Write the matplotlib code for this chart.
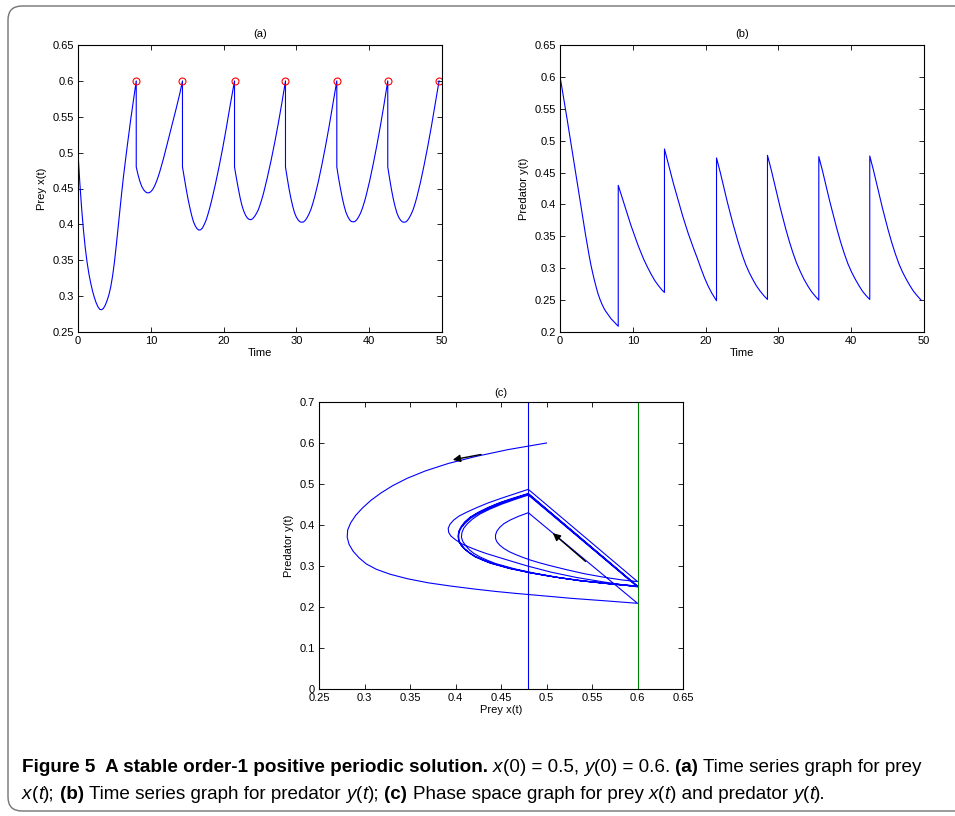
import matplotlib
matplotlib.use('Agg')
import matplotlib.pyplot as plt
import numpy as np
from matplotlib.patches import FancyBboxPatch
from matplotlib.transforms import IdentityTransform
from matplotlib.ticker import FormatStrFormatter, MultipleLocator

# values: one list per impulse cycle (time, prey x, predator y)
t1 = [0, 0.25, 0.5, 0.75, 1.0, 1.25, 1.5, 1.75, 2.0, 2.25, 2.5, 2.75, 3.0, 3.25, 3.5, 3.75, 4.0,
      4.25, 4.5, 4.75, 5.0, 5.25, 5.5, 5.75, 6.0, 6.25, 6.5, 6.75, 7.0, 7.25, 7.5, 7.75, 8.0]
x1 = [0.5, 0.458, 0.422, 0.392, 0.367, 0.347, 0.331, 0.318, 0.307, 0.298, 0.2905, 0.285, 0.2815,
      0.281, 0.283, 0.2875, 0.294, 0.302, 0.313, 0.328, 0.347, 0.37, 0.395, 0.42, 0.444, 0.467,
      0.488, 0.508, 0.528, 0.547, 0.565, 0.583, 0.6]
y1 = [0.6, 0.584, 0.567, 0.55, 0.532, 0.514, 0.496, 0.478, 0.46, 0.442, 0.424, 0.406, 0.388, 0.37,
      0.353, 0.336, 0.32, 0.305, 0.292, 0.28, 0.269, 0.259, 0.251, 0.244, 0.238, 0.233, 0.229,
      0.225, 0.221, 0.218, 0.215, 0.212, 0.209]

t2 = [8.0, 8.25, 8.5, 8.75, 9.0, 9.25, 9.5, 9.75, 10.0, 10.25, 10.5, 10.75, 11.0, 11.25, 11.5,
      11.75, 12.0, 12.5, 13.0, 13.5, 14.0, 14.35]
x2 = [0.48, 0.469, 0.46, 0.453, 0.4485, 0.4455, 0.444, 0.444, 0.4455, 0.4485, 0.453, 0.459,
      0.466, 0.474, 0.483, 0.492, 0.502, 0.522, 0.542, 0.562, 0.583, 0.6]
y2 = [0.43, 0.421, 0.412, 0.403, 0.394, 0.385, 0.376, 0.367, 0.359, 0.351, 0.343, 0.335, 0.328,
      0.321, 0.314, 0.308, 0.302, 0.291, 0.281, 0.273, 0.266, 0.262]

t3 = [14.35, 14.6, 14.85, 15.1, 15.35, 15.6, 15.85, 16.1, 16.35, 16.6, 16.85, 17.1, 17.35, 17.6,
      17.85, 18.1, 18.35, 18.85, 19.35, 19.85, 20.35, 20.85, 21.5]
x3 = [0.48, 0.465, 0.45, 0.436, 0.424, 0.413, 0.404, 0.398, 0.394, 0.392, 0.3925, 0.395, 0.4,
      0.406, 0.414, 0.423, 0.433, 0.455, 0.479, 0.505, 0.533, 0.563, 0.6]
y3 = [0.487, 0.476, 0.465, 0.454, 0.443, 0.432, 0.422, 0.412, 0.402, 0.392, 0.382, 0.373, 0.364,
      0.355, 0.347, 0.339, 0.331, 0.316, 0.3, 0.285, 0.272, 0.261, 0.249]

t4 = [21.5, 21.75, 22.0, 22.25, 22.5, 22.75, 23.0, 23.25, 23.5, 23.75, 24.0, 24.25, 24.5, 24.75,
      25.0, 25.25, 25.5, 26.0, 26.5, 27.0, 27.5, 28.0, 28.5]
x4 = [0.48, 0.465, 0.451, 0.438, 0.427, 0.419, 0.413, 0.409, 0.407, 0.4065, 0.408, 0.411, 0.415,
      0.42, 0.427, 0.435, 0.444, 0.465, 0.488, 0.513, 0.54, 0.569, 0.6]
y4 = [0.473, 0.462, 0.451, 0.439, 0.427, 0.415, 0.403, 0.392, 0.381, 0.37, 0.36, 0.35, 0.34,
      0.331, 0.322, 0.314, 0.306, 0.293, 0.282, 0.272, 0.264, 0.257, 0.251]

t5 = [28.5, 28.75, 29.0, 29.25, 29.5, 29.75, 30.0, 30.25, 30.5, 30.75, 31.0, 31.25, 31.5, 31.75,
      32.0, 32.25, 32.5, 33.0, 33.5, 34.0, 34.5, 35.0, 35.55]
x5 = [0.48, 0.464, 0.449, 0.436, 0.425, 0.416, 0.41, 0.406, 0.4035, 0.403, 0.4035, 0.406, 0.41,
      0.415, 0.421, 0.429, 0.438, 0.459, 0.483, 0.509, 0.537, 0.567, 0.6]
y5 = [0.477, 0.466, 0.455, 0.443, 0.431, 0.419, 0.407, 0.395, 0.384, 0.373, 0.362, 0.352, 0.342,
      0.333, 0.324, 0.316, 0.308, 0.295, 0.283, 0.273, 0.264, 0.257, 0.25]

t6 = [35.55, 35.8, 36.05, 36.3, 36.55, 36.8, 37.05, 37.3, 37.55, 37.8, 38.05, 38.3, 38.55, 38.8,
      39.05, 39.3, 39.55, 40.05, 40.55, 41.05, 41.55, 42.05, 42.55]
x6 = [0.48, 0.464, 0.45, 0.437, 0.426, 0.417, 0.411, 0.4065, 0.404, 0.4035, 0.404, 0.4065, 0.4105,
      0.4155, 0.422, 0.43, 0.439, 0.46, 0.484, 0.51, 0.538, 0.568, 0.6]
y6 = [0.475, 0.464, 0.453, 0.441, 0.429, 0.417, 0.405, 0.394, 0.383, 0.372, 0.361, 0.351, 0.341,
      0.332, 0.323, 0.315, 0.307, 0.294, 0.283, 0.273, 0.264, 0.257, 0.251]

t7 = [42.55, 42.8, 43.05, 43.3, 43.55, 43.8, 44.05, 44.3, 44.55, 44.8, 45.05, 45.3, 45.55, 45.8,
      46.05, 46.3, 46.55, 47.05, 47.55, 48.05, 48.55, 49.05, 49.6]
x7 = [0.48, 0.464, 0.449, 0.436, 0.425, 0.416, 0.41, 0.406, 0.4035, 0.403, 0.4035, 0.406, 0.41,
      0.415, 0.421, 0.429, 0.438, 0.459, 0.483, 0.509, 0.537, 0.567, 0.6]
y7 = [0.476, 0.465, 0.454, 0.442, 0.43, 0.418, 0.406, 0.394, 0.383, 0.372, 0.361, 0.351, 0.341,
      0.332, 0.323, 0.315, 0.307, 0.294, 0.283, 0.273, 0.264, 0.257, 0.25]

ET = 0.6                # threshold where the pulse happens
X_AFTER = 0.48          # prey level right after a pulse
pulse_t = [8.0, 14.35, 21.5, 28.5, 35.55, 42.55, 49.6]

# arrows in panel (c): (tail, head)
arrows = [((0.428, 0.572), (0.397, 0.559)),
          ((0.543, 0.311), (0.507, 0.380))]

t = np.concatenate([t1, t2, t3, t4, t5, t6, t7])
x = np.concatenate([x1, x2, x3, x4, x5, x6, x7])
y = np.concatenate([y1, y2, y3, y4, y5, y6, y7])

#------------------------------------------------------#

plt.rcParams['font.family'] = ['Liberation Sans', 'DejaVu Sans']
plt.rcParams['font.size'] = 8

W, H = 955, 816
fig = plt.figure(figsize=(W / 100, H / 100), dpi=100)

def box(l, t_, w, h):
    return [l / W, 1 - (t_ + h) / H, w / W, h / H]

def style_axes(ax):
    ax.tick_params(direction='in', top=True, right=True, length=3.5, width=0.6,
                   labelsize=8, pad=3, colors='k')
    for s in ax.spines.values():
        s.set_linewidth(0.8)
    ax.xaxis.set_major_formatter(FormatStrFormatter('%g'))
    ax.yaxis.set_major_formatter(FormatStrFormatter('%g'))

blue = (0, 0, 1)

# (a) prey
ax1 = fig.add_axes(box(78, 45, 364, 287))
ax1.plot(t, x, color=blue, lw=0.8)
ax1.plot(pulse_t, [ET] * len(pulse_t), 'o', mfc='none', mec='r', ms=5, mew=0.8)
ax1.set_xlim(0, 50)
ax1.set_ylim(0.25, 0.65)
ax1.xaxis.set_major_locator(MultipleLocator(10))
ax1.yaxis.set_major_locator(MultipleLocator(0.05))
ax1.set_xlabel('Time', labelpad=1)
ax1.set_ylabel('Prey x(t)', labelpad=4)
ax1.set_title('(a)', fontsize=8, pad=6)
style_axes(ax1)

# (b) predator
ax2 = fig.add_axes(box(560, 45, 364, 287))
ax2.plot(t, y, color=blue, lw=0.8)
ax2.set_xlim(0, 50)
ax2.set_ylim(0.2, 0.65)
ax2.xaxis.set_major_locator(MultipleLocator(10))
ax2.yaxis.set_major_locator(MultipleLocator(0.05))
ax2.set_xlabel('Time', labelpad=1)
ax2.set_ylabel('Predator y(t)', labelpad=4)
ax2.set_title('(b)', fontsize=8, pad=6)
style_axes(ax2)

# (c) phase space
ax3 = fig.add_axes(box(319, 402, 364, 287))
ax3.plot(x, y, color=blue, lw=0.8)
ax3.axvline(X_AFTER, color=blue, lw=0.8)
ax3.axvline(ET, color=(0, 0.5, 0), lw=0.8)
for tail, head in arrows:
    ax3.annotate('', xy=head, xytext=tail,
                 arrowprops=dict(arrowstyle='-|>', color='k', lw=1.0,
                                 mutation_scale=11, shrinkA=0, shrinkB=0))
ax3.set_xlim(0.25, 0.65)
ax3.set_ylim(0, 0.7)
ax3.xaxis.set_major_locator(MultipleLocator(0.05))
ax3.yaxis.set_major_locator(MultipleLocator(0.1))
ax3.set_xlabel('Prey x(t)', labelpad=1)
ax3.set_ylabel('Predator y(t)', labelpad=4)
ax3.set_title('(c)', fontsize=8, pad=4)
style_axes(ax3)

# rounded frame around the figure block
frame = FancyBboxPatch((8, H - 811), 990, 805, boxstyle='round,pad=0,rounding_size=14',
                       transform=IdentityTransform(), fill=False,
                       edgecolor='0.45', lw=1.0)
fig.patches.append(frame)

#------------------------------------------------------#
# caption with mixed bold / italic pieces

cap_family = ['Liberation Sans Narrow', 'Liberation Sans']
line1 = [('Figure 5  A stable order-1 positive periodic solution.', 'b'), (' ', 'n'),
         ('x', 'i'), ('(0) = 0.5, ', 'n'), ('y', 'i'), ('(0) = 0.6. ', 'n'),
         ('(a)', 'b'), (' Time series graph for prey', 'n')]
line2 = [('x', 'i'), ('(', 'n'), ('t', 'i'), ('); ', 'n'), ('(b)', 'b'),
         (' Time series graph for predator ', 'n'), ('y', 'i'), ('(', 'n'), ('t', 'i'),
         ('); ', 'n'), ('(c)', 'b'), (' Phase space graph for prey ', 'n'),
         ('x', 'i'), ('(', 'n'), ('t', 'i'), (') and predator ', 'n'),
         ('y', 'i'), ('(', 'n'), ('t', 'i'), (').', 'n')]

renderer = fig.canvas.get_renderer()

def props(style, size):
    return dict(fontsize=size, family=cap_family,
                fontweight='bold' if style == 'b' else 'normal',
                fontstyle='italic' if style == 'i' else 'normal')

def width_of(s, style, size):
    tx = fig.text(0, 0, s, **props(style, size))
    w = tx.get_window_extent(renderer=renderer).width
    tx.remove()
    return w

def space_of(style, size):
    return width_of('a a', style, size) - width_of('aa', style, size)

def line_width(pieces, size):
    total = 0
    for s, st in pieces:
        core = s.strip(' ')
        n_sp = len(s) - len(core)
        total += n_sp * space_of(st, size) + (width_of(core, st, size) if core else 0)
    return total

def draw_line(pieces, x0, ybase, size):
    xp = x0
    for s, st in pieces:
        lead = len(s) - len(s.lstrip(' '))
        core = s.strip(' ')
        trail = len(s) - lead - len(core)
        sp = space_of(st, size)
        xp += lead * sp
        if core:
            fig.text(xp / W, 1 - ybase / H, core, va='baseline', ha='left', **props(st, size))
            xp += width_of(core, st, size)
        xp += trail * sp

size0 = 12
cap_size = size0 * 900 / line_width(line1, size0)
draw_line(line1, 22, 772, cap_size)
draw_line(line2, 22, 799, cap_size)

fig.savefig('out.png', dpi=100)
